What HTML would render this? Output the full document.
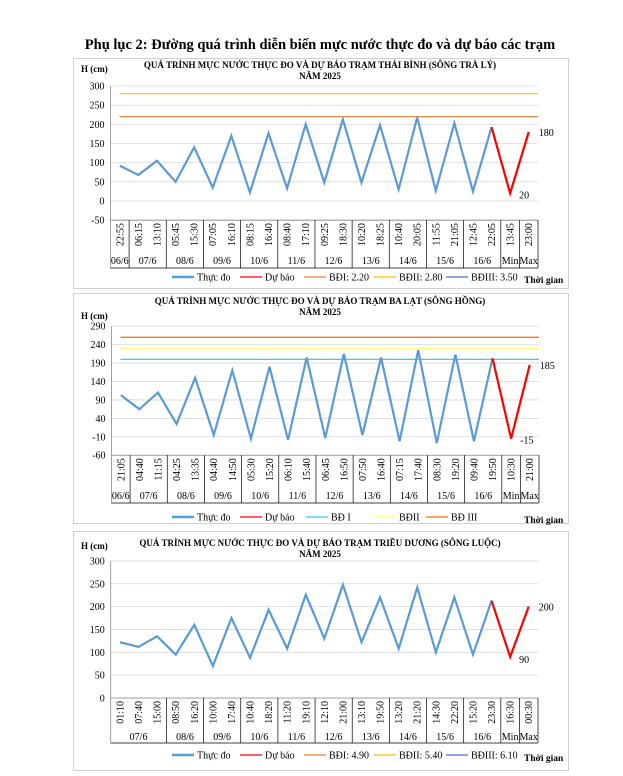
<!DOCTYPE html>
<html><head><meta charset="utf-8"><style>
body{margin:0;background:#fff;width:623px;height:776px;overflow:hidden}
svg{display:block;font-family:"Liberation Serif",serif}
</style></head><body>
<svg id="s" width="623" height="776" xmlns="http://www.w3.org/2000/svg">
<text x="320" y="49" text-anchor="middle" font-size="14.5" font-weight="bold">Phụ lục 2: Đường quá trình diễn biến mực nước thực đo và dự báo các trạm</text>
</svg>
<script>
const S=document.getElementById('s');let h='';
function el(t){h+=t;}
function chart(c){
  const {top,bot,x0,x1,y0,yz,yk,min,max,step,groups,times,vals,fc,lines,title,leg,lbl,bx}=c;
  el(`<rect x="73.5" y="${bx[0]}.5" width="495" height="${bx[1]-bx[0]}" fill="none" stroke="#d0d0d0"/>`);
  el(`<text x="320" y="${title}" text-anchor="middle" font-size="9" font-weight="bold">${c.t1}</text>`);
  el(`<text x="320" y="${title+11}" text-anchor="middle" font-size="9" font-weight="bold">NĂM 2025</text>`);
  el(`<text x="81" y="${c.hy}" font-size="9" font-weight="bold">H (cm)</text>`);
  const Y=v=>yz-(v)*yk;
  for(let v=min;v<=max;v+=step){el(`<line x1="${x0}" x2="${x1}" y1="${Y(v)}" y2="${Y(v)}" stroke="#d9d9d9" stroke-width="0.8"/>`);
    el(`<text x="${x0-6}" y="${Y(v)+3.5}" text-anchor="end" font-size="10">${v}</text>`);}
  lines.forEach(l=>el(`<line x1="${x0+9}" x2="${x1}" y1="${Y(l[0])}" y2="${Y(l[0])}" stroke="${l[1]}" stroke-width="1.2"/>`));
  const n=23,w=(x1-x0)/n,X=i=>x0+w*(i+.5),yb=Y(min);
  el(`<line x1="${x0}" x2="${x0}" y1="${Y(max)}" y2="${c.db}" stroke="#888" stroke-width="0.8"/>`);
  el(`<line x1="${x0}" x2="${x1}" y1="${yb}" y2="${yb}" stroke="#888" stroke-width="0.8"/>`);
  let gi=0;
  groups.forEach(g=>{gi+=g[1];const xx=x0+gi*w;el(`<line x1="${xx}" x2="${xx}" y1="${yb}" y2="${c.db}" stroke="#000" stroke-width="0.7"/>`);
    el(`<text x="${xx-g[1]*w/2}" y="${c.dy}" text-anchor="middle" font-size="10">${g[0]}</text>`);});
  el(`<line x1="${x0}" x2="${x1}" y1="${c.db}" y2="${c.db}" stroke="#000" stroke-width="0.7"/>`);
  times.forEach((t,i)=>el(`<text transform="translate(${X(i)+3.5},${yb+3}) rotate(-90)" text-anchor="end" font-size="10">${t}</text>`));
  let p=vals.map((v,i)=>X(i)+','+Y(v)).join(' ');
  el(`<polyline points="${p}" fill="none" stroke="#5b9bd5" stroke-width="2.2"/>`);
  el(`<polyline points="${X(20)},${Y(vals[20])} ${X(21)},${Y(fc[0])} ${X(22)},${Y(fc[1])}" fill="none" stroke="#f00" stroke-width="2.2"/>`);
  el(`<text x="${X(22)+10}" y="${Y(fc[1])+c.la[0]}" font-size="10">${fc[1]}</text>`);
  el(`<text x="${X(21)+9}" y="${Y(fc[0])+c.la[1]}" font-size="10">${fc[0]}</text>`);
  let lx=172;leg.forEach(l=>{el(`<line x1="${lx}" x2="${lx+22}" y1="${c.ly}" y2="${c.ly}" stroke="${l[1]}" stroke-width="${l[2]||1.3}"/>`);
    el(`<text x="${lx+25}" y="${c.ly+3.5}" font-size="10">${l[0]}</text>`);lx+=l[3];});
  el(`<text x="524" y="${c.ly+6}" font-size="9.5" font-weight="bold">Thời gian</text>`);
}
const g1=[['06/6',1],['07/6',2],['08/6',2],['09/6',2],['10/6',2],['11/6',2],['12/6',2],['13/6',2],['14/6',2],['15/6',2],['16/6',2],['Min',1],['Max',1]];
chart({bx:[58,288],t1:'QUÁ TRÌNH MỰC NƯỚC THỰC ĐO VÀ DỰ BÁO TRẠM THÁI BÌNH (SÔNG TRÀ LÝ)',title:68,hy:72,
x0:110.5,x1:538,yz:201,yk:0.3833,min:-50,max:300,step:50,groups:g1,db:268,dy:264,
times:['22:55','06:15','13:10','05:45','15:30','07:05','16:10','08:15','16:40','08:40','17:10','09:25','18:30','10:20','18:25','10:40','20:05','11:55','21:05','12:45','22:05','13:45','23:00'],
vals:[92,68,105,50,140,35,170,22,177,33,200,48,213,48,198,30,218,27,203,25,193],fc:[20,180],la:[4,5],
lines:[[220,'#ed7d31'],[280,'#ffc000']],ly:277,
leg:[['Thực đo','#5b9bd5',2.5,68],['Dự báo','#f00',1.3,64],['BĐI: 2.20','#ed7d31',1.3,70],['BĐII: 2.80','#ffc000',1.3,72],['BĐIII: 3.50','#4472c4',1.3,70]]});
chart({bx:[293,523],t1:'QUÁ TRÌNH MỰC NƯỚC THỰC ĐO VÀ DỰ BÁO TRẠM BA LẠT (SÔNG HỒNG)',title:304,hy:319,
x0:111.5,x1:539,yz:433.1,yk:0.3686,min:-60,max:290,step:50,groups:g1,db:503,dy:499,
times:['21:05','04:40','11:15','04:25','13:35','04:40','14:50','05:30','15:20','06:10','15:40','06:45','16:50','07:50','16:40','07:15','17:40','08:30','19:20','09:40','19:50','10:30','21:00'],
vals:[103,65,110,25,150,-5,170,-15,180,-18,205,-13,215,-5,205,-22,225,-27,213,-22,203],fc:[-15,185],la:[4,5],
lines:[[200,'#33ccff'],[230,'#ffff66'],[260,'#ff6600']],ly:517,
leg:[['Thực đo','#5b9bd5',2.5,68],['Dự báo','#f00',1.3,66],['BĐ I','#33ccff',1.3,68],['BĐII','#ffff66',1.3,52],['BĐ III','#ff6600',1.3,60]]});
chart({bx:[531,770],t1:'QUÁ TRÌNH MỰC NƯỚC THỰC ĐO VÀ DỰ BÁO TRẠM TRIỀU DƯƠNG  (SÔNG LUỘC)',title:546,hy:549,
x0:110.7,x1:538,yz:698,yk:0.457,min:0,max:300,step:50,groups:[['07/6',3],['08/6',2],['09/6',2],['10/6',2],['11/6',2],['12/6',2],['13/6',2],['14/6',2],['15/6',2],['16/6',2],['Min',1],['Max',1]],db:743,dy:740,
times:['01:10','07:40','15:00','08:50','16:20','10:00','17:40','10:40','18:20','11:20','19:10','12:10','21:00','13:10','19:50','13:20','21:20','14:30','22:20','15:20','23:30','16:30','00:30'],
vals:[122,112,135,95,160,70,175,88,193,108,226,130,248,122,220,108,242,100,220,95,213],fc:[90,200],la:[4,6],
lines:[],ly:755,
leg:[['Thực đo','#5b9bd5',2.5,68],['Dự báo','#f00',1.3,64],['BĐI: 4.90','#ed7d31',1.3,70],['BĐII: 5.40','#ffc000',1.3,72],['BĐIII: 6.10','#4472c4',1.3,70]]});
S.insertAdjacentHTML('beforeend',h);
</script>
</body></html>
